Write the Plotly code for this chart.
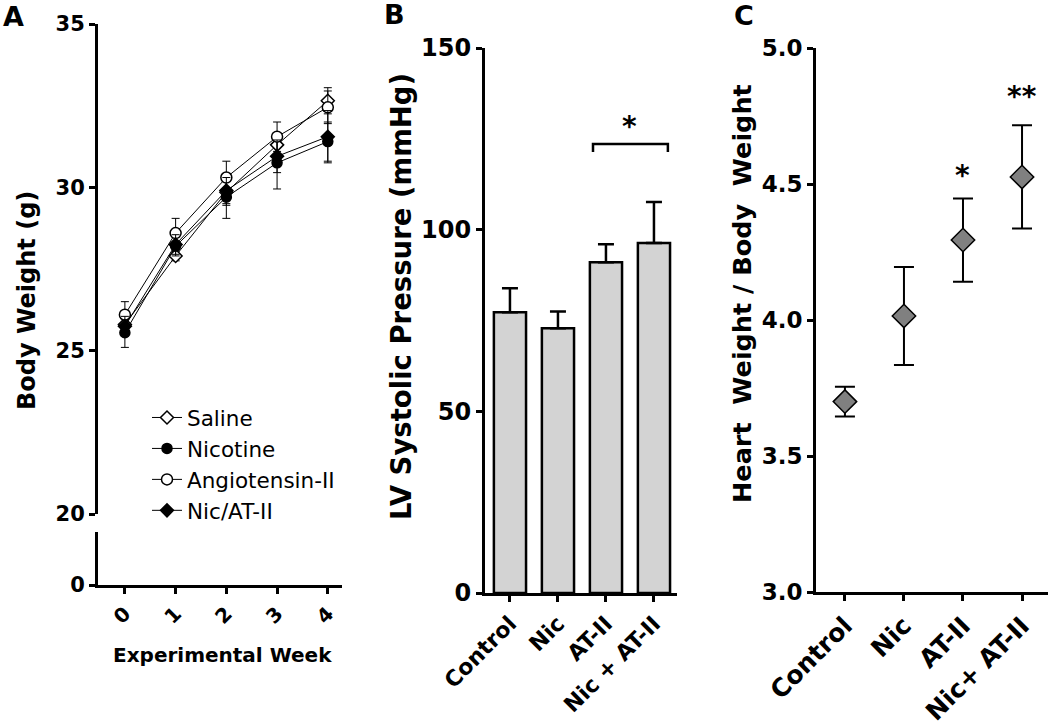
import plotly.graph_objects as go

# ---------------- data ----------------
weeks = [0, 1, 2, 3, 4]
saline = [25.8, 27.9, 29.85, 31.3, 32.65]
saline_err = [0.3, 0.15, 0.4, 0.35, 0.4]
nicotine = [25.55, 28.2, 29.7, 30.75, 31.4]
nicotine_err = [0.45, 0.3, 0.65, 0.8, 0.6]
angio = [26.1, 28.6, 30.3, 31.55, 32.45]
angio_err = [0.4, 0.45, 0.5, 0.45, 0.5]
nicat = [25.75, 28.25, 29.9, 30.95, 31.55]
nicat_err = [0.3, 0.3, 0.4, 0.5, 0.8]

groups_b = ["Control", "Nic", "AT-II", "Nic + AT-II"]
lvsp = [77.3, 72.9, 91.0, 96.3]
lvsp_err = [6.6, 4.6, 5.0, 11.3]

groups_c = ["Control", "Nic", "AT-II", "Nic+ AT-II"]
hwbw = [3.70, 4.015, 4.294, 4.526]
hwbw_err = [0.055, 0.18, 0.153, 0.19]
stars_c = ["", "", "*", "**"]
stars_c_y = [None, None, 4.53, 4.82]

ticks_a_upper = [20, 25, 30, 35]
ticks_b = [0, 50, 100, 150]
ticks_c = [3.0, 3.5, 4.0, 4.5, 5.0]

# ---------------- layout helpers ----------------
W, H = 1050, 728
def px(x):
    return x / W
def py(y):
    return 1 - y / H

FONT = "DejaVu Sans"
BOLD = dict(family=FONT, color="black", weight="bold")

fig = go.Figure()

# ---------------- Panel A ----------------
series = [
    ("Saline", saline, saline_err, "diamond", "white", 10),
    ("Nicotine", nicotine, nicotine_err, "circle", "black", 10),
    ("Angiotensin-II", angio, angio_err, "circle", "white", 11),
    ("Nic/AT-II", nicat, nicat_err, "diamond", "black", 10),
]
for name, vals, err, sym, fill, size in series:
    fig.add_trace(go.Scatter(
        x=weeks, y=vals, name=name, mode="lines+markers",
        xaxis="x", yaxis="y",
        line=dict(color="black", width=1),
        marker=dict(symbol=sym, size=size, color=fill,
                    line=dict(color="black", width=1.5)),
        error_y=dict(type="data", array=err, color="black",
                     thickness=1, width=4),
        showlegend=True,
    ))

# empty trace so the lower (broken) axis segment of panel A is created
fig.add_trace(go.Scatter(x=weeks, y=[None] * len(weeks), xaxis="x", yaxis="y2",
                         mode="markers", showlegend=False, hoverinfo="skip"))

# ---------------- Panel B ----------------
fig.add_trace(go.Bar(
    x=groups_b, y=lvsp, xaxis="x2", yaxis="y3", width=0.67,
    marker=dict(color="#d3d3d3", line=dict(color="black", width=2.5)),
    error_y=dict(type="data", array=lvsp_err, arrayminus=[0] * len(lvsp),
                 symmetric=False, color="black", thickness=2.5, width=8),
    showlegend=False,
))

# ---------------- Panel C ----------------
fig.add_trace(go.Scatter(
    x=groups_c, y=hwbw, xaxis="x3", yaxis="y4", mode="markers",
    marker=dict(symbol="diamond", size=18, color="#808080",
                line=dict(color="black", width=1.5)),
    error_y=dict(type="data", array=hwbw_err, color="black",
                 thickness=2, width=10),
    showlegend=False,
))

axis_common = dict(showline=True, linecolor="black", linewidth=3,
                   ticks="outside", ticklen=6, tickwidth=2.5,
                   tickcolor="black", showgrid=False, zeroline=False,
                   automargin=False)

fig.update_layout(
    width=W, height=H,
    margin=dict(l=0, r=0, t=0, b=0, autoexpand=False),
    paper_bgcolor="white", plot_bgcolor="white",
    font=dict(family=FONT, color="black"),
    # Panel A
    xaxis=dict(domain=[px(98), px(342)], anchor="y2",
               range=[-0.53, 4.28], tickvals=weeks,
               ticktext=[str(w) for w in weeks], tickangle=-45,
               tickfont=dict(size=20, **BOLD), **axis_common),
    yaxis=dict(domain=[py(514), py(24)], anchor="x", range=[20, 35],
               tickvals=ticks_a_upper, tickfont=dict(size=21, **BOLD),
               **axis_common),
    yaxis2=dict(domain=[py(585), py(532)], anchor="x", range=[0, 1],
                tickvals=[0], tickfont=dict(size=21, **BOLD),
                **axis_common),
    # Panel B
    xaxis2=dict(domain=[px(485), px(677)], anchor="y3",
                range=[-0.52, 3.48], tickangle=-45,
                tickfont=dict(size=22, **BOLD), **axis_common),
    yaxis3=dict(domain=[py(593), py(48)], anchor="x2", range=[0, 150],
                tickvals=ticks_b, tickfont=dict(size=24, **BOLD),
                **axis_common),
    # Panel C
    xaxis3=dict(domain=[px(816), px(1048)], anchor="y4",
                range=[-0.49, 3.44], tickangle=-45,
                tickfont=dict(size=25, **BOLD), **axis_common),
    yaxis4=dict(domain=[py(592), py(48)], anchor="x3", range=[3.0, 5.0],
                tickvals=ticks_c, ticktext=[f"{v:.1f}" for v in ticks_c],
                tickfont=dict(size=23, **BOLD), **axis_common),
    legend=dict(x=px(147), y=py(397), xanchor="left", yanchor="top",
                font=dict(family=FONT, size=21.5, color="black"),
                bgcolor="rgba(0,0,0,0)", tracegroupgap=0),
)

# bracket in panel B
fig.add_shape(type="path", xref="x2", yref="y3",
              path="M 1.73,121.4 L 1.73,123.6 L 3.29,123.6 L 3.29,121.4",
              line=dict(color="black", width=2.5))

def ann(text, x, y, size, angle=0, xref="paper", yref="paper"):
    return dict(text=text, x=x, y=y, xref=xref, yref=yref, textangle=angle,
                xanchor="center", yanchor="middle",
                font=dict(size=size, **BOLD), showarrow=False)

annotations = [
    ann("A", px(13), py(16), 27),
    ann("B", px(394), py(14), 27),
    ann("C", px(744), py(15), 27),
    ann("Body Weight (g)", px(27), py(301), 24, -90),
    ann("Experimental Week", px(222), py(655), 20),
    ann("LV Systolic Pressure (mmHg)", px(401), py(297), 27.5, -90),
    ann("Heart\u00a0\u00a0Weight / Body\u00a0\u00a0Weight", px(742), py(294), 25.5, -90),
    ann("*", 2.5, 128.4, 28, xref="x2", yref="y3"),
]
for g, s, sy in zip(groups_c, stars_c, stars_c_y):
    if s:
        annotations.append(ann(s, g, sy, 28, xref="x3", yref="y4"))
fig.update_layout(annotations=annotations)

fig.write_html("out.html", config={"displayModeBar": False},
               post_script="document.body.style.margin='0px';")
